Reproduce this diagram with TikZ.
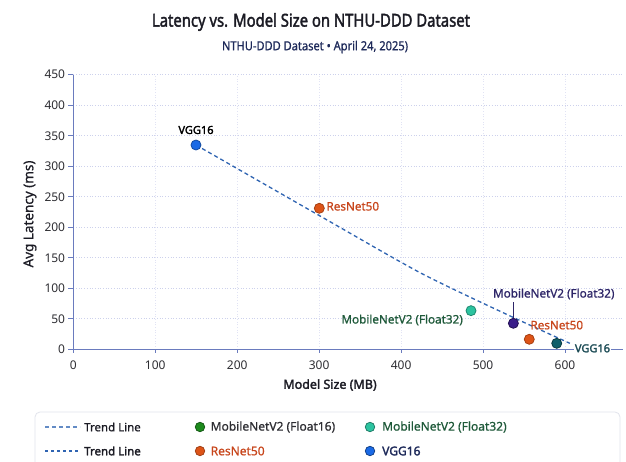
\documentclass[tikz,border=0pt]{standalone}
\usepackage{fontspec}
\setmainfont{Noto Sans}[BoldFont={Noto Sans}, BoldFeatures={FakeBold=2.2}]
\newfontfamily\medfont{Noto Sans}[FakeBold=0.8]
\usepackage{graphicx}
\definecolor{axisc}{HTML}{6A7BBE}
\definecolor{gridc}{HTML}{CDD1EC}
\definecolor{trendc}{HTML}{2F64B2}
\definecolor{titlec}{HTML}{1B1B24}
\definecolor{subc}{HTML}{1E2A5A}
\definecolor{tickc}{HTML}{2E2E33}
\definecolor{vggblue}{HTML}{1A6AE6}
\definecolor{resorange}{HTML}{DD5418}
\definecolor{mteal}{HTML}{2CC3A0}
\definecolor{mpurple}{HTML}{3A1D8A}
\definecolor{vteal}{HTML}{0F5F6A}
\definecolor{restext}{HTML}{C8461C}
\definecolor{purptext}{HTML}{2E2668}
\definecolor{greentext}{HTML}{1F5A3A}
\definecolor{vggtext}{HTML}{1D4C56}
\definecolor{legf16}{HTML}{1D8A1D}
\definecolor{legborder}{HTML}{E2E4EC}
\begin{document}
\begin{tikzpicture}[x=1pt,y=1pt,
  dot/.style={circle, inner sep=0pt, minimum size=10pt, line width=0.8pt},
  ticklab/.style={font=\fontsize{12}{14}\selectfont, text=tickc, inner sep=0pt},
  datalab/.style={font=\fontsize{11.7}{14}\selectfont\medfont, inner sep=0pt},
  boldlab/.style={font=\fontsize{11}{13}\selectfont\bfseries, inner sep=0pt},
  leglab/.style={font=\fontsize{12}{14}\selectfont\medfont, inner sep=0pt, anchor=west},
  legdot/.style={circle, inner sep=0pt, minimum size=9.5pt, line width=0.7pt},
  gridline/.style={gridc, dotted, line width=0.7pt},
  axisline/.style={axisc, line width=1pt},
  trendline/.style={trendc, dash pattern=on 4pt off 3pt, line width=1.3pt}
]
\useasboundingbox (0,0) rectangle (626,461);
\fill[white] (0,0) rectangle (626,461);

% titles
\node[text=titlec, inner sep=0pt] (title) at (311,439) {\resizebox{318pt}{13.5pt}{\bfseries Latency vs. Model Size on NTHU-DDD Dataset}};
\node[text=subc, inner sep=0pt] (subtitle) at (315,414) {\resizebox{186pt}{9.5pt}{\medfont NTHU-DDD Dataset {\textbullet} April 24, 2025)}};

\begin{scope}[shift={(73.3,111.7)}, x=0.8195pt, y=0.6102pt]
  % grid
  \foreach \v in {50,100,...,450} \draw[gridline] (0,\v) -- (671,\v);
  \foreach \u in {100,200,...,600} \draw[gridline, gridc!60] (\u,0) -- (\u,450);
  % axes
  \coordinate (origin) at (0,0);
  \coordinate (ytop) at (0,450);
  \coordinate (xend) at (671,0);
  \draw[axisline] (origin) -- (ytop);
  \draw[axisline] (origin) -- (xend);
  \foreach \v in {0,50,...,450} {
    \draw[axisc, line width=0.8pt] (0,\v) -- ++(-5pt,0);
    \node[ticklab, anchor=east] (yt\v) at ([xshift=-8pt]0,\v) {\v};
  }
  \foreach \u in {0,100,...,600} {
    \draw[axisc, line width=0.8pt] (\u,0) -- ++(0,-4pt);
    \node[ticklab, anchor=north] (xt\u) at ([yshift=-11pt]\u,0) {\u};
  }
  % trend line
  \draw[trendline] plot[smooth, tension=0.6] coordinates {(149.7,334.8) (299,220.1) (398.7,143.6) (447.5,109.1) (535,53.4) (606,9.8)};
  % points
  \node[dot, fill=vggblue, draw=vggblue!70!black] (pVGGa) at (149.7,334.8) {};
  \node[dot, fill=resorange, draw=resorange!75!black] (pRESa) at (300.2,231.1) {};
  \node[dot, fill=mteal, draw=mteal!70!black] (pM32a) at (485.3,63.3) {};
  \node[dot, fill=mpurple, draw=mpurple!60!black] (pM32b) at (537,42.6) {};
  \node[dot, fill=resorange, draw=resorange!75!black] (pRESb) at (556.4,16.4) {};
  \node[dot, fill=vteal, draw=vteal!60!black] (pVGGb) at (589.9,9.8) {};
\end{scope}

% data labels
\node[boldlab, text=black] (lVGGa) at ([yshift=15pt]pVGGa.center) {VGG16};
\node[datalab, text=restext, anchor=west] (lRESa) at ([xshift=7pt,yshift=2pt]pRESa.center) {ResNet50};
\node[datalab, text=greentext, anchor=base east] (lM32a) at ([xshift=-8pt,yshift=-12.8pt]pM32a.center) {MobileNetV2 (Float32)};
\node[datalab, text=purptext, anchor=base] (lM32b) at ([xshift=40.4pt,yshift=25.8pt]pM32b.center) {MobileNetV2 (Float32)};
\coordinate (lM32bfoot) at ([yshift=-2pt]lM32b.south);
\draw[purptext, line width=0.8pt] (pM32b.north) -- (pM32b.north |- lM32bfoot);
\node[datalab, text=restext, anchor=base west] (lRESb) at ([xshift=1pt,yshift=10pt]pRESb.center) {ResNet50};
\node[boldlab, text=vggtext, anchor=west, fill=white, inner sep=1pt] (lVGGb) at ([xshift=17pt,yshift=-5pt]pVGGb.center) {VGG16};

% axis titles
\node[font=\fontsize{13.5}{16}\selectfont\medfont, text=titlec, rotate=90, inner sep=0pt] (ylab) at (30,247) {Avg Latency (ms)};
\node[font=\fontsize{12.5}{15}\selectfont\bfseries, text=titlec, inner sep=0pt] (xlab) at (330,76) {Model Size (MB)};

% legend
\draw[legborder, fill=white, rounded corners=5pt, line width=0.8pt] (35,49) rectangle (620,-12);
\coordinate (lgA1) at (45,34); \coordinate (lgA2) at (80,34);
\coordinate (lgB1) at (45,10); \coordinate (lgB2) at (80,10);
\draw[trendc!75!white, dash pattern=on 4pt off 3pt, line width=1.1pt] (lgA1) -- (lgA2);
\draw[trendc, dash pattern=on 3pt off 3pt, line width=1.4pt] (lgB1) -- (lgB2);
\node[leglab, text=titlec, font=\fontsize{11.5}{14}\selectfont\medfont] (lgT1) at (84,34) {Trend Line};
\node[leglab, text=titlec, font=\fontsize{11.5}{14}\selectfont\bfseries] (lgT2) at (84,10) {Trend Line};
\node[legdot, fill=legf16, draw=legf16!60!black] (lgD1) at (200,34) {};
\node[leglab, text=tickc] (lgL1) at (210.5,34) {MobileNetV2 (Float16)};
\node[legdot, fill=mteal, draw=mteal!60!black] (lgD2) at (370,34) {};
\node[leglab, text=greentext] (lgL2) at (382,34) {MobileNetV2 (Float32)};
\node[legdot, fill=resorange, draw=resorange!70!black] (lgD3) at (200,10) {};
\node[leglab, text=restext] (lgL3) at (210.5,10) {ResNet50};
\node[legdot, fill=vggblue, draw=vggblue!55!black] (lgD4) at (370,10) {};
\node[leglab, text=subc, font=\fontsize{12}{14}\selectfont\bfseries] (lgL4) at (382,10) {VGG16};
\end{tikzpicture}
\end{document}
